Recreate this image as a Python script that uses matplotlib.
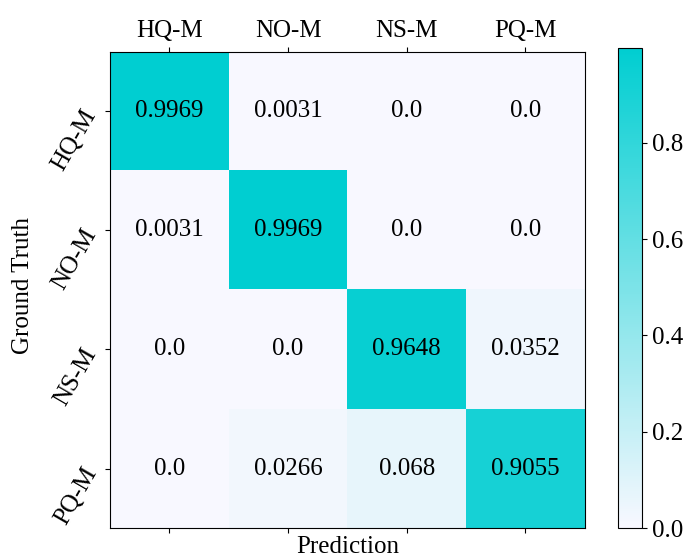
import numpy as np
import matplotlib
matplotlib.use('Agg')
import matplotlib.pyplot as plt
from matplotlib.colors import LinearSegmentedColormap

plt.rcParams['font.family'] = ['Liberation Serif', 'DejaVu Serif']
plt.rcParams['mathtext.fontset'] = 'stix'

classes = ['HQ-M', 'NO-M', 'NS-M', 'PQ-M']
cm = np.array([
    [0.9969, 0.0031, 0.0, 0.0],
    [0.0031, 0.9969, 0.0, 0.0],
    [0.0, 0.0, 0.9648, 0.0352],
    [0.0, 0.0266, 0.068, 0.9055],
])

cmap = LinearSegmentedColormap.from_list('gw_turq', ['ghostwhite', 'darkturquoise'])

fig = plt.figure(figsize=(6.88, 5.57), dpi=100)
ax = fig.add_axes([0.160, 0.052, 0.690, 0.855])
cax = fig.add_axes([0.898, 0.052, 0.035, 0.862])

im = ax.imshow(cm, cmap=cmap, vmin=0, vmax=cm.max(), aspect='auto')
cb = fig.colorbar(im, cax=cax)
cb.ax.tick_params(labelsize=18)
cb.set_ticks([0.0, 0.2, 0.4, 0.6, 0.8])

n = len(classes)
ax.set_xticks(range(n))
ax.set_yticks(range(n))
ax.set_xticklabels(classes, fontsize=18)
ax.set_yticklabels(classes, fontsize=18, rotation=60, ha='right', va='center',
                   rotation_mode='anchor')
ax.tick_params(axis='x', top=True, labeltop=True, bottom=True, labelbottom=False)
ax.tick_params(axis='y', pad=10)
ax.set_xlabel('Prediction', fontsize=18, labelpad=2)
ax.set_ylabel('Ground Truth', fontsize=18)
ax.yaxis.set_label_coords(-0.160, 0.51)

for i in range(n):
    for j in range(n):
        ax.text(j, i, str(cm[i, j]), ha='center', va='center', fontsize=18, color='black')

fig.savefig('out.png', dpi=100)
